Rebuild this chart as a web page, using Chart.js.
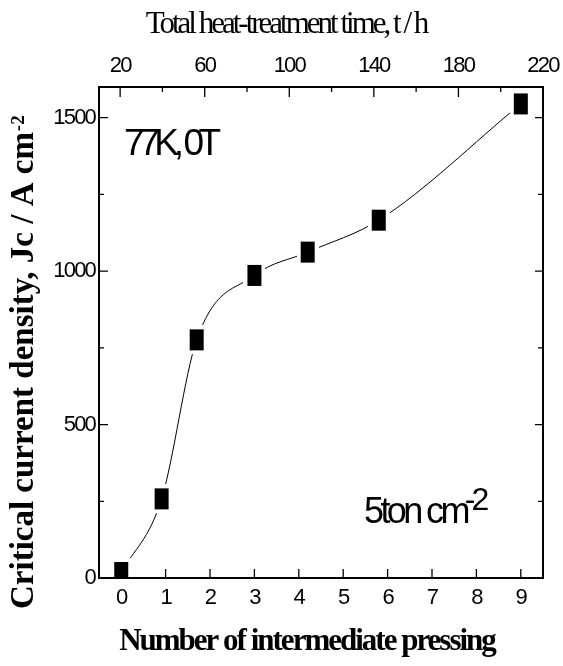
<!DOCTYPE html>
<html>
<head>
<meta charset="utf-8">
<script src="https://cdn.jsdelivr.net/npm/chart.js@4.4.0/dist/chart.umd.min.js"></script>
<style>
  html, body { margin: 0; padding: 0; background: #fff; }
</style>
</head>
<body>
<canvas id="my-chart" width="563" height="666"></canvas>
<script>
// data
const pressings = [0, 0.91, 1.7, 3.0, 4.2, 5.8, 9.0];
const jcValues = [18, 258, 776, 986, 1062, 1166, 1545];

const bottomTicks = [0, 1, 2, 3, 4, 5, 6, 7, 8, 9];
const topTicks = [20, 60, 100, 140, 180, 220];
const topMinor = [40, 80, 120, 160, 200];
const yTicks = [0, 500, 1000, 1500];
const yMinor = [250, 750, 1250];

const tickFont = { family: "Liberation Sans", size: 22 };

function makeMarker() {
  const pad = 4;
  const c = document.createElement("canvas");
  c.width = 14 + pad * 2;
  c.height = 21 + pad * 2;
  const g = c.getContext("2d");
  g.fillStyle = "#fff";
  g.fillRect(0, 0, c.width, c.height);
  g.fillStyle = "#000";
  g.fillRect(pad, pad, 14, 21);
  return c;
}

function text(ctx, str, x, y, font, spacing, align) {
  ctx.font = font;
  ctx.letterSpacing = spacing + "px";
  ctx.textAlign = align || "left";
  ctx.textBaseline = "alphabetic";
  ctx.fillText(str, x, y);
  return ctx.measureText(str).width;
}

const frameAndText = {
  id: "frameAndText",
  beforeDraw(chart) {
    const ctx = chart.ctx;
    ctx.save();
    ctx.fillStyle = "#fff";
    ctx.fillRect(0, 0, chart.width, chart.height);
    ctx.restore();
    ctx.letterSpacing = "-1.8px";
  },
  afterDraw(chart) {
    const ctx = chart.ctx;
    const a = chart.chartArea;
    const xs = chart.scales.x, x2 = chart.scales.x2, ys = chart.scales.y;
    ctx.save();
    ctx.strokeStyle = "#000";
    ctx.fillStyle = "#000";
    ctx.lineWidth = 1.3;
    ctx.beginPath();
    bottomTicks.forEach((v) => {
      const p = xs.getPixelForValue(v);
      ctx.moveTo(p, a.bottom); ctx.lineTo(p, a.bottom - 9);
    });
    topTicks.forEach((v) => {
      const p = x2.getPixelForValue(v);
      ctx.moveTo(p, a.top); ctx.lineTo(p, a.top + 10);
    });
    topMinor.forEach((v) => {
      const p = x2.getPixelForValue(v);
      ctx.moveTo(p, a.top); ctx.lineTo(p, a.top + 5);
    });
    yTicks.forEach((v) => {
      const p = ys.getPixelForValue(v);
      ctx.moveTo(a.left, p); ctx.lineTo(a.left + 9, p);
      ctx.moveTo(a.right, p); ctx.lineTo(a.right - 8, p);
    });
    yMinor.forEach((v) => {
      const p = ys.getPixelForValue(v);
      ctx.moveTo(a.left, p); ctx.lineTo(a.left + 5, p);
      ctx.moveTo(a.right, p); ctx.lineTo(a.right - 5, p);
    });
    ctx.stroke();
    ctx.lineWidth = 2;
    ctx.strokeRect(a.left, a.top, a.right - a.left, a.bottom - a.top);

    // axis titles
    text(ctx, "Total heat-treatment time, t / h", 286, 33, "31px 'Liberation Serif'", -3.0, "center");
    text(ctx, "Number of intermediate pressing", 307, 650, "bold 31px 'Liberation Serif'", -2, "center");

    ctx.save();
    ctx.translate(33, 609);
    ctx.rotate(-Math.PI / 2);
    const w = text(ctx, "Critical current density, Jc / A cm", 0, 0, "bold 33px 'Liberation Serif'", 0, "left");
    text(ctx, "-2", w + 1, -9, "bold 19px 'Liberation Serif'", 0, "left");
    ctx.restore();

    // annotations
    text(ctx, "77K, 0T", 124, 155, "37px 'Liberation Sans'", -5.4, "left");
    const w2 = text(ctx, "5ton cm", 364, 523, "36px 'Liberation Sans'", -3.6, "left");
    text(ctx, "-2", 364 + w2 - 2, 510, "32px 'Liberation Sans'", -4, "left");
    ctx.restore();
  },
};

const ctx = document.getElementById("my-chart").getContext("2d");
const chart = new Chart(ctx, {
  type: "line",
  data: {
    datasets: [
      {
        label: "Jc",
        data: pressings.map((p, i) => ({ x: p, y: jcValues[i] })),
        borderColor: "#000",
        borderWidth: 1,
        cubicInterpolationMode: "monotone",
        pointStyle: makeMarker(),
        pointRadius: 11,
        pointHoverRadius: 11,
      },
    ],
  },
  options: {
    responsive: false,
    animation: false,
    events: [],
    layout: { padding: { top: 0, left: 0, right: 20, bottom: 0 } },
    plugins: { legend: { display: false }, tooltip: { enabled: false } },
    scales: {
      x: {
        type: "linear",
        position: "bottom",
        min: -0.5,
        max: 9.5,
        grid: { display: false, drawTicks: false },
        border: { display: false },
        ticks: { font: tickFont, color: "#000", padding: 7, maxRotation: 0, autoSkip: false, callback: (v) => String(v) },
        afterBuildTicks: (s) => { s.ticks = bottomTicks.map((v) => ({ value: v })); },
        afterFit: (s) => { s.height = 88; s.paddingLeft = 0; s.paddingRight = 0; },
      },
      x2: {
        type: "linear",
        position: "top",
        min: 10,
        max: 220,
        grid: { display: false, drawTicks: false },
        border: { display: false },
        ticks: { font: tickFont, color: "#000", padding: 8, maxRotation: 0, autoSkip: false, callback: (v) => String(v) },
        afterBuildTicks: (s) => { s.ticks = topTicks.map((v) => ({ value: v })); },
        afterFit: (s) => { s.height = 87; s.paddingLeft = 0; s.paddingRight = 0; },
      },
      y: {
        type: "linear",
        position: "left",
        min: 0,
        max: 1600,
        grid: { display: false, drawTicks: false },
        border: { display: false },
        ticks: { font: tickFont, color: "#000", padding: 4, callback: (v) => String(v) },
        afterBuildTicks: (s) => { s.ticks = yTicks.map((v) => ({ value: v })); },
        afterFit: (s) => { s.width = 99; s.paddingTop = 0; s.paddingBottom = 0; },
      },
    },
  },
  plugins: [frameAndText],
});
</script>
</body>
</html>
